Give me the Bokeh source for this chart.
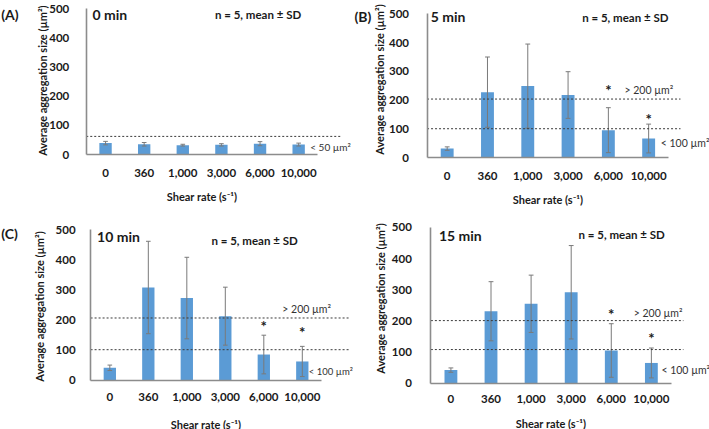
import math
from bokeh.plotting import figure
from bokeh.models import ColumnDataSource, Label, FixedTicker
from bokeh.layouts import column, row
from bokeh.embed import file_html
from bokeh.resources import INLINE
from bokeh.core.properties import value

# ---------------- data ----------------
shear_rates = ["0", "360", "1,000", "3,000", "6,000", "10,000"]

mean_0 = [39, 35, 32, 33, 37, 34]
sd_0 = [6, 6, 3, 4, 7, 5]

mean_5 = [32, 228, 249, 218, 96, 67]
sd_5 = [6, 122, 146, 81, 78, 50]

mean_10 = [42, 308, 273, 213, 86, 63]
sd_10 = [9, 153, 135, 96, 64, 50]

mean_15 = [42, 231, 255, 292, 105, 65]
sd_15 = [7, 95, 92, 150, 86, 48]

thr_0 = [62]
thr_5 = [204, 101]
thr_10 = [207, 102]
thr_15 = [201, 108]

star_idx = [4, 5]
star_y_5 = [236, 135]
star_y_10 = [179, 160]
star_y_15 = [222, 144]

y_ticks = [0, 100, 200, 300, 400, 500]
Y_LABEL = "Average aggregation size (\u00b5m\u00b2)"
X_LABEL = "Shear rate (s\u207b\u00b9)"

FONT = "Lato"
BAR = "#5b9bd5"
AXIS = "#8c8c8c"
TXT = "#1a1a1a"


def panel(means, sds, thr, thr_end, star_y, fw, fh, xr, yr,
          ystand, xstand, xlstand, ylab_pos, texts):
    p = figure(width=fw, height=fh, x_range=xr, y_range=yr,
               output_backend="svg", toolbar_location=None,
               min_border_left=0, min_border_right=0, min_border_top=0,
               min_border_bottom=0, outline_line_color=None,
               background_fill_color="white", border_fill_color="white")
    p.grid.visible = False
    x = list(range(len(shear_rates)))
    src = ColumnDataSource(dict(x=x, top=means,
                                lo=[m - s for m, s in zip(means, sds)],
                                hi=[m + s for m, s in zip(means, sds)],
                                cl=[v - 0.06 for v in x],
                                cr=[v + 0.06 for v in x]))
    p.vbar(x="x", top="top", width=0.32, source=src, fill_color=BAR,
           line_color=None)
    p.segment(x0="x", y0="lo", x1="x", y1="hi", source=src,
              line_color="#7a7a7a", line_width=1)
    p.segment(x0="cl", y0="hi", x1="cr", y1="hi", source=src,
              line_color="#7a7a7a", line_width=1)
    p.segment(x0="cl", y0="lo", x1="cr", y1="lo", source=src,
              line_color="#7a7a7a", line_width=1)
    for t in thr:
        p.line([-0.5, thr_end], [t, t], line_color="#3a3a3a",
               line_dash="2 2", line_width=1)
    if star_y:
        ssrc = ColumnDataSource(dict(x=star_idx, y=star_y,
                                     t=["*"] * len(star_idx)))
        p.text(x="x", y="y", text="t", source=ssrc, text_align="center",
               text_baseline="middle", text_font=value(FONT),
               text_font_size="15px", text_font_style="bold",
               text_color=TXT)

    xa = p.xaxis[0]
    xa.fixed_location = 0
    xa.bounds = (-0.5, 5.5)
    xa.ticker = FixedTicker(ticks=x)
    xa.major_label_overrides = {i: s for i, s in enumerate(shear_rates)}
    xa.axis_line_color = AXIS
    xa.axis_line_width = 1.6
    xa.major_tick_line_color = None
    xa.minor_tick_line_color = None
    xa.major_label_standoff = xstand
    xa.axis_label = X_LABEL
    xa.axis_label_standoff = xlstand

    ya = p.yaxis[0]
    ya.fixed_location = -0.5
    ya.bounds = (0, 500)
    ya.ticker = FixedTicker(ticks=y_ticks)
    ya.axis_line_color = AXIS
    ya.axis_line_width = 1.6
    ya.major_tick_line_color = None
    ya.minor_tick_line_color = None
    ya.major_label_standoff = ystand

    for a in (xa, ya):
        a.major_label_text_font = FONT
        a.major_label_text_font_size = "11.5px"
        a.major_label_text_font_style = "bold"
        a.major_label_text_color = TXT
        a.axis_label_text_font = FONT
        a.axis_label_text_font_size = "11px"
        a.axis_label_text_font_style = "bold"
        a.axis_label_text_color = TXT

    # y-axis title (rotated text glyph)
    ysrc = ColumnDataSource(dict(x=[ylab_pos[0]], y=[ylab_pos[1]],
                                 t=[Y_LABEL]))
    p.text(x="x", y="y", text="t", source=ysrc, angle=math.pi / 2,
           text_align="center", text_baseline="middle",
           text_font=value(FONT), text_font_size="11px",
           text_font_style="bold", text_color=TXT)

    for (tx, ty, txt, size, bold, align) in texts:
        p.add_layout(Label(x=tx, y=ty, text=txt, text_font=FONT,
                           text_font_size=size,
                           text_font_style="bold" if bold else "normal",
                           text_align=align, text_baseline="middle",
                           text_color=TXT if bold else "#333333"))
    return p


pA = panel(mean_0, sd_0, thr_0, 6.09, None, 353, 215,
           (-2.72, 6.42), (-208.9, 527.4), 11, 8, 10, (-1.63, 253),
           [(-2.70, 479, "(A)", "14px", True, "left"),
            (-0.34, 479, "0 min", "14px", True, "left"),
            (3.95, 479, "n = 5, mean \u00b1 SD", "11.5px", True, "center"),
            (5.3, 24, "< 50 \u00b5m\u00b2", "10px", False, "left")])

pB = panel(mean_5, sd_5, thr_5, 5.79, star_y_5, 356, 215,
           (-2.325, 6.51), (-200.3, 546.2), 12, 8, 10, (-1.68, 272),
           [(-2.30, 491, "(B)", "14px", True, "left"),
            (-0.41, 491, "5 min", "14px", True, "left"),
            (4.42, 486, "n = 5, mean \u00b1 SD", "11.5px", True, "center"),
            (4.4, 236, "> 200 \u00b5m\u00b2", "10.5px", False, "left"),
            (5.3, 51, "< 100 \u00b5m\u00b2", "10.5px", False, "left")])

pC = panel(mean_10, sd_10, thr_10, 6.25, star_y_10, 353, 214,
           (-2.84, 6.33), (-162.3, 546.4), 9, 7, 13, (-1.83, 245),
           [(-2.82, 487, "(C)", "14px", True, "left"),
            (-0.33, 476, "10 min", "14px", True, "left"),
            (3.76, 465, "n = 5, mean \u00b1 SD", "11.5px", True, "center"),
            (4.48, 238, "> 200 \u00b5m\u00b2", "10.5px", False, "left"),
            (5.17, 30, "< 100 \u00b5m\u00b2", "9.5px", False, "left")])

pD = panel(mean_15, sd_15, thr_15, 5.8, star_y_15, 356, 214,
           (-2.43, 6.45), (-148.7, 538.5), 13, 6, 10, (-1.76, 272),
           [(-0.30, 473, "15 min", "14px", True, "left"),
            (4.26, 479, "n = 5, mean \u00b1 SD", "11.5px", True, "center"),
            (4.56, 225, "> 200 \u00b5m\u00b2", "10.5px", False, "left"),
            (5.25, 41, "< 100 \u00b5m\u00b2", "10.5px", False, "left")])

layout = column(row(pA, pB, spacing=0), row(pC, pD, spacing=0), spacing=0)

open("out.html", "w").write(file_html(layout, INLINE))
